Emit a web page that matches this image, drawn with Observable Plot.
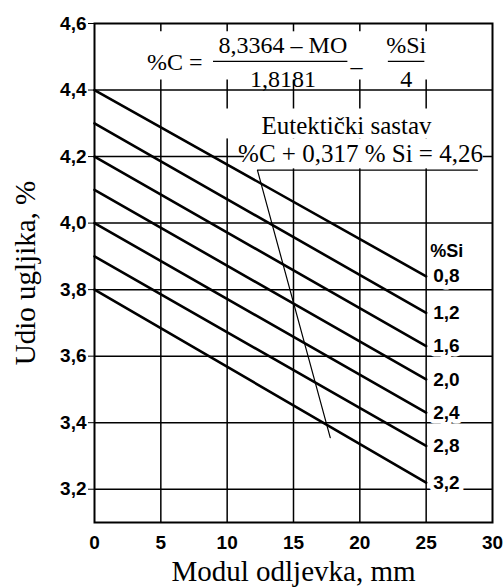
<!DOCTYPE html>
<html>
<head>
<meta charset="utf-8">
<script src="https://cdn.jsdelivr.net/npm/d3@7"></script>
<script src="https://cdn.jsdelivr.net/npm/@observablehq/plot@0.6"></script>
<style>
  html, body { margin: 0; padding: 0; background: white; }
</style>
</head>
<body>
<div id="chart"></div>
<script>
// ---- data ----
const xTicks = [0, 5, 10, 15, 20, 25, 30];
const yTicks = [3.2, 3.4, 3.6, 3.8, 4.0, 4.2, 4.4, 4.6];
const xGrid = [5, 10, 15, 20, 25];
const yGrid = [3.2, 3.4, 3.6, 3.8, 4.0, 4.2, 4.4];

const siLabels = ["0,8", "1,2", "1,6", "2,0", "2,4", "2,8", "3,2"];
const moStart = 0;
const moEnd = 25;
const carbonAtStart = [4.40, 4.30, 4.20, 4.10, 4.00, 3.90, 3.80];
const carbonAtEnd   = [3.84, 3.73, 3.63, 3.53, 3.43, 3.33, 3.22];

// eutectic composition line (with its label underline)
const eutecticMO = [28.86, 12.28, 17.77];
const eutecticC  = [4.159, 4.159, 3.355];

const xTitle = "Modul odljevka, mm";
const yTitle = "Udio ugljika, %";
const siHeader = "%Si";
const eutecticTitle = "Eutektički sastav";
const eutecticFormula = "%C + 0,317 % Si = 4,26";

// ---- build tables ----
const lineData = [];
siLabels.forEach((s, i) => {
  lineData.push({si: s, mo: moStart, c: carbonAtStart[i]});
  lineData.push({si: s, mo: moEnd, c: carbonAtEnd[i]});
});
const labelData = siLabels.map((s, i) => ({si: s, mo: moEnd, c: carbonAtEnd[i]}));
const eutecticData = eutecticMO.map((m, i) => ({mo: m, c: eutecticC[i]}));

// annotation placements (data units)
const whiteBoxes = [
  {x1: 9.0, x2: 29.3, y1: 4.253, y2: 4.343},
  {x1: 11.3, x2: 29.3, y1: 4.163, y2: 4.253}
];
const formulaTexts = [
  {t: "%C =", x: 6.05, y: 4.482},
  {t: "8,3364 – MO", x: 14.2, y: 4.533},
  {t: "1,8181", x: 14.2, y: 4.433},
  {t: "–", x: 19.75, y: 4.47},
  {t: "%Si", x: 23.5, y: 4.533},
  {t: "4", x: 23.5, y: 4.433}
];
const fractionBars = [
  {x1: 8.97, x2: 19.1, y: 4.486},
  {x1: 22.15, x2: 24.9, y: 4.486}
];
const eutecticTexts = [
  {t: eutecticTitle, x: 19.0, y: 4.292},
  {t: eutecticFormula, x: 20.05, y: 4.207}
];

const fmt = d => d.toFixed(1).replace(".", ",");
const sans = "Liberation Sans, Arial, sans-serif";
const serif = "Liberation Serif, Times New Roman, serif";

const chart = Plot.plot({
  width: 503,
  height: 588,
  marginLeft: 94,
  marginRight: 11,
  marginTop: 23,
  marginBottom: 66,
  x: {domain: [0, 30], axis: null},
  y: {domain: [3.1, 4.6], axis: null},
  style: {background: "white", color: "black"},
  marks: [
    Plot.ruleY(yGrid, {stroke: "black", strokeWidth: 1.5}),
    Plot.ruleX(xGrid, {y1: 3.1, y2: 4.43, stroke: "black", strokeWidth: 1.5}),
    Plot.ruleX(xGrid, {y1: 4.6, y2: 4.575, stroke: "black", strokeWidth: 1.5}),
    Plot.rect(whiteBoxes, {x1: "x1", x2: "x2", y1: "y1", y2: "y2", fill: "white"}),
    Plot.line(eutecticData, {x: "mo", y: "c", stroke: "black", strokeWidth: 1.2}),
    Plot.line(lineData, {x: "mo", y: "c", z: "si", stroke: "black", strokeWidth: 2.6}),
    Plot.text(labelData, {x: "mo", y: "c", text: "si", dx: 7, textAnchor: "start",
      fontSize: 19, fontFamily: sans, fontWeight: "bold", fill: "black",
      stroke: "white", strokeWidth: 9}),
    Plot.text([siHeader], {x: moEnd, y: 3.916, dx: 4, textAnchor: "start",
      fontSize: 18, fontFamily: sans, fontWeight: "bold", fill: "black"}),
    Plot.frame({stroke: "black", strokeWidth: 2}),
    Plot.axisY(yTicks, {tickSize: 6, tickPadding: 2, tickFormat: fmt,
      fontSize: 19, fontFamily: sans, fontWeight: "bold", label: null}),
    Plot.axisX(xTicks, {tickSize: 0, tickPadding: 13, tickFormat: d => String(d),
      fontSize: 19, fontFamily: sans, fontWeight: "bold", label: null}),
    Plot.text([xTitle], {frameAnchor: "bottom", dy: 58, lineAnchor: "bottom", textAnchor: "middle",
      fontSize: 29, fontFamily: serif, fill: "black"}),
    Plot.text([yTitle], {frameAnchor: "left", dx: -69, rotate: -90, lineAnchor: "middle",
      textAnchor: "middle", fontSize: 29, fontFamily: serif, fill: "black"}),
    Plot.text(formulaTexts, {x: "x", y: "y", text: "t", fontSize: 24, fontFamily: serif,
      fill: "black", lineAnchor: "middle"}),
    Plot.ruleY(fractionBars, {y: "y", x1: "x1", x2: "x2", stroke: "black", strokeWidth: 1.2}),
    Plot.text(eutecticTexts, {x: "x", y: "y", text: "t", fontSize: 25, fontFamily: serif,
      fill: "black", lineAnchor: "middle"})
  ]
});
document.getElementById("chart").append(chart);
</script>
</body>
</html>
